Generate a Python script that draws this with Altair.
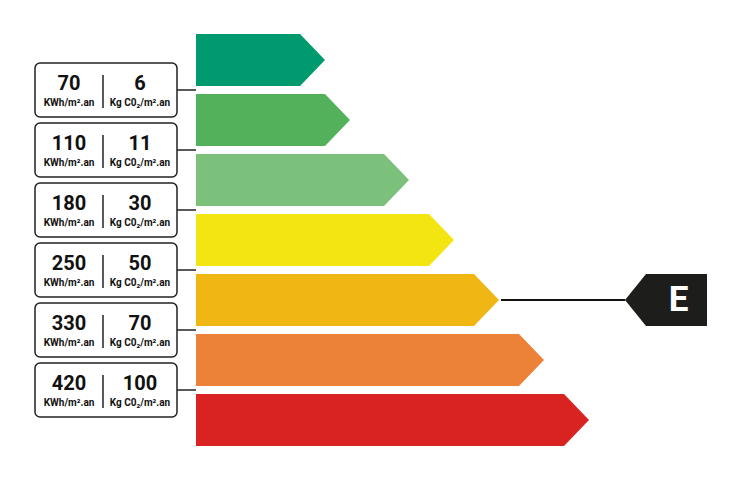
import altair as alt
import pandas as pd

# ---- data ----
classes = ["A", "B", "C", "D", "E", "F", "G"]
class_colors = ["#009A6E", "#52B15A", "#7BC07B", "#F2E511", "#F0B614", "#EC8237", "#D92321"]
arrow_lengths = [129, 154, 213, 258, 303, 348, 393]
kwh_limits = [70, 110, 180, 250, 330, 420]
co2_limits = [6, 11, 30, 50, 70, 100]
kwh_unit = "KWh/m².an"
co2_unit = "Kg C0₂/m².an"
current_class = "E"

# ---- layout ----
X0, TOP0, STEP, BAR_H, TIP = 196, 34, 60, 52, 25
BOX_L, BOX_R, BOX_DIV, BOX_H = 35, 177, 103, 54
MARK_TIP, MARK_BODY, MARK_R = 625, 646, 707
NARROW = "Liberation Sans Narrow, Roboto, sans-serif"

arrow_rows = []
for i, (c, L) in enumerate(zip(classes, arrow_lengths)):
    top = TOP0 + i * STEP
    bot = top + BAR_H
    mid = (top + bot) / 2
    arrow_rows += [
        dict(cls=c, x=X0, y=top, y2=bot),
        dict(cls=c, x=X0 + L - TIP, y=top, y2=bot),
        dict(cls=c, x=X0 + L, y=mid, y2=mid),
    ]
arrows_df = pd.DataFrame(arrow_rows)

box_rows = []
for i, (k, c) in enumerate(zip(kwh_limits, co2_limits)):
    cy = TOP0 + BAR_H + (STEP - BAR_H) / 2 + i * STEP
    box_rows.append(dict(cy=cy, top=cy - BOX_H / 2, bot=cy + BOX_H / 2,
                         dtop=cy - 15, dbot=cy + 18, sub=cy + 16,
                         kwh=str(k), co2=str(c),
                         kx=(BOX_L + BOX_DIV) / 2, cx=(BOX_DIV + BOX_R) / 2,
                         x1=BOX_L, x2=BOX_R, xd=BOX_DIV, xb=X0,
                         ku=kwh_unit, cu=co2_unit))
boxes_df = pd.DataFrame(box_rows)

ci = classes.index(current_class)
cur_top = TOP0 + ci * STEP
cur_mid = cur_top + BAR_H / 2
marker_df = pd.DataFrame([
    dict(x=MARK_TIP, y=cur_mid, y2=cur_mid),
    dict(x=MARK_BODY, y=cur_top, y2=cur_top + BAR_H),
    dict(x=MARK_R, y=cur_top, y2=cur_top + BAR_H),
])
line_df = pd.DataFrame([dict(x=X0 + arrow_lengths[ci] + 2, x2=MARK_TIP, y=cur_mid,
                             tx=(MARK_BODY + MARK_R) / 2 + 2, label=current_class)])

xs = alt.Scale(domain=[8, 733], nice=False, zero=False)
ys = alt.Scale(domain=[8, 472], nice=False, zero=False, reverse=True)

def X(f):
    return alt.X(f, type="quantitative", scale=xs, axis=None)

def Y(f):
    return alt.Y(f, type="quantitative", scale=ys, axis=None)

arrows = alt.Chart(arrows_df).mark_area(interpolate="linear").encode(
    x=X("x"), y=Y("y"), y2="y2",
    color=alt.Color("cls:N", scale=alt.Scale(domain=classes, range=class_colors), legend=None),
    detail="cls:N",
)

connectors = alt.Chart(boxes_df).mark_rule(color="#222", strokeWidth=1.5).encode(
    x=X("x2"), x2="xb", y=Y("cy"))

boxes = alt.Chart(boxes_df).mark_rect(fill="white", stroke="#222", strokeWidth=1.5,
                                      cornerRadius=5).encode(
    x=X("x1"), x2="x2", y=Y("top"), y2="bot")

dividers = alt.Chart(boxes_df).mark_rule(color="#222", strokeWidth=1.5).encode(
    x=X("xd"), y=Y("dtop"), y2="dbot")

big_k = alt.Chart(boxes_df).mark_text(font=NARROW, fontWeight="bold", fontSize=20,
                                      baseline="alphabetic", color="#111").encode(
    x=X("kx"), y=Y("cy"), text="kwh")
big_c = alt.Chart(boxes_df).mark_text(font=NARROW, fontWeight="bold", fontSize=20,
                                      baseline="alphabetic", color="#111").encode(
    x=X("cx"), y=Y("cy"), text="co2")
sub_k = alt.Chart(boxes_df).mark_text(font=NARROW, fontWeight="bold", fontSize=10,
                                      baseline="alphabetic", color="#111").encode(
    x=X("kx"), y=Y("sub"), text="ku")
sub_c = alt.Chart(boxes_df).mark_text(font=NARROW, fontWeight="bold", fontSize=10,
                                      baseline="alphabetic", color="#111").encode(
    x=X("cx"), y=Y("sub"), text="cu")

marker = alt.Chart(marker_df).mark_area(interpolate="linear", color="#1D1D1B").encode(
    x=X("x"), y=Y("y"), y2="y2")

pointer = alt.Chart(line_df).mark_rule(color="#111", strokeWidth=2).encode(
    x=X("x"), x2="x2", y=Y("y"))

marker_text = alt.Chart(line_df).mark_text(font="Roboto, sans-serif", fontWeight="bold",
                                           fontSize=35, color="white",
                                           baseline="middle").encode(
    x=X("tx"), y=Y("y"), text="label")

chart = alt.layer(arrows, connectors, boxes, dividers, big_k, big_c, sub_k, sub_c,
                  pointer, marker, marker_text).properties(
    width=725, height=464, padding=0, autosize=alt.AutoSizeParams(type="none"),
    background="white",
).configure_view(stroke=None)

chart.save("out.html", embed_options={"renderer": "svg", "actions": False})
